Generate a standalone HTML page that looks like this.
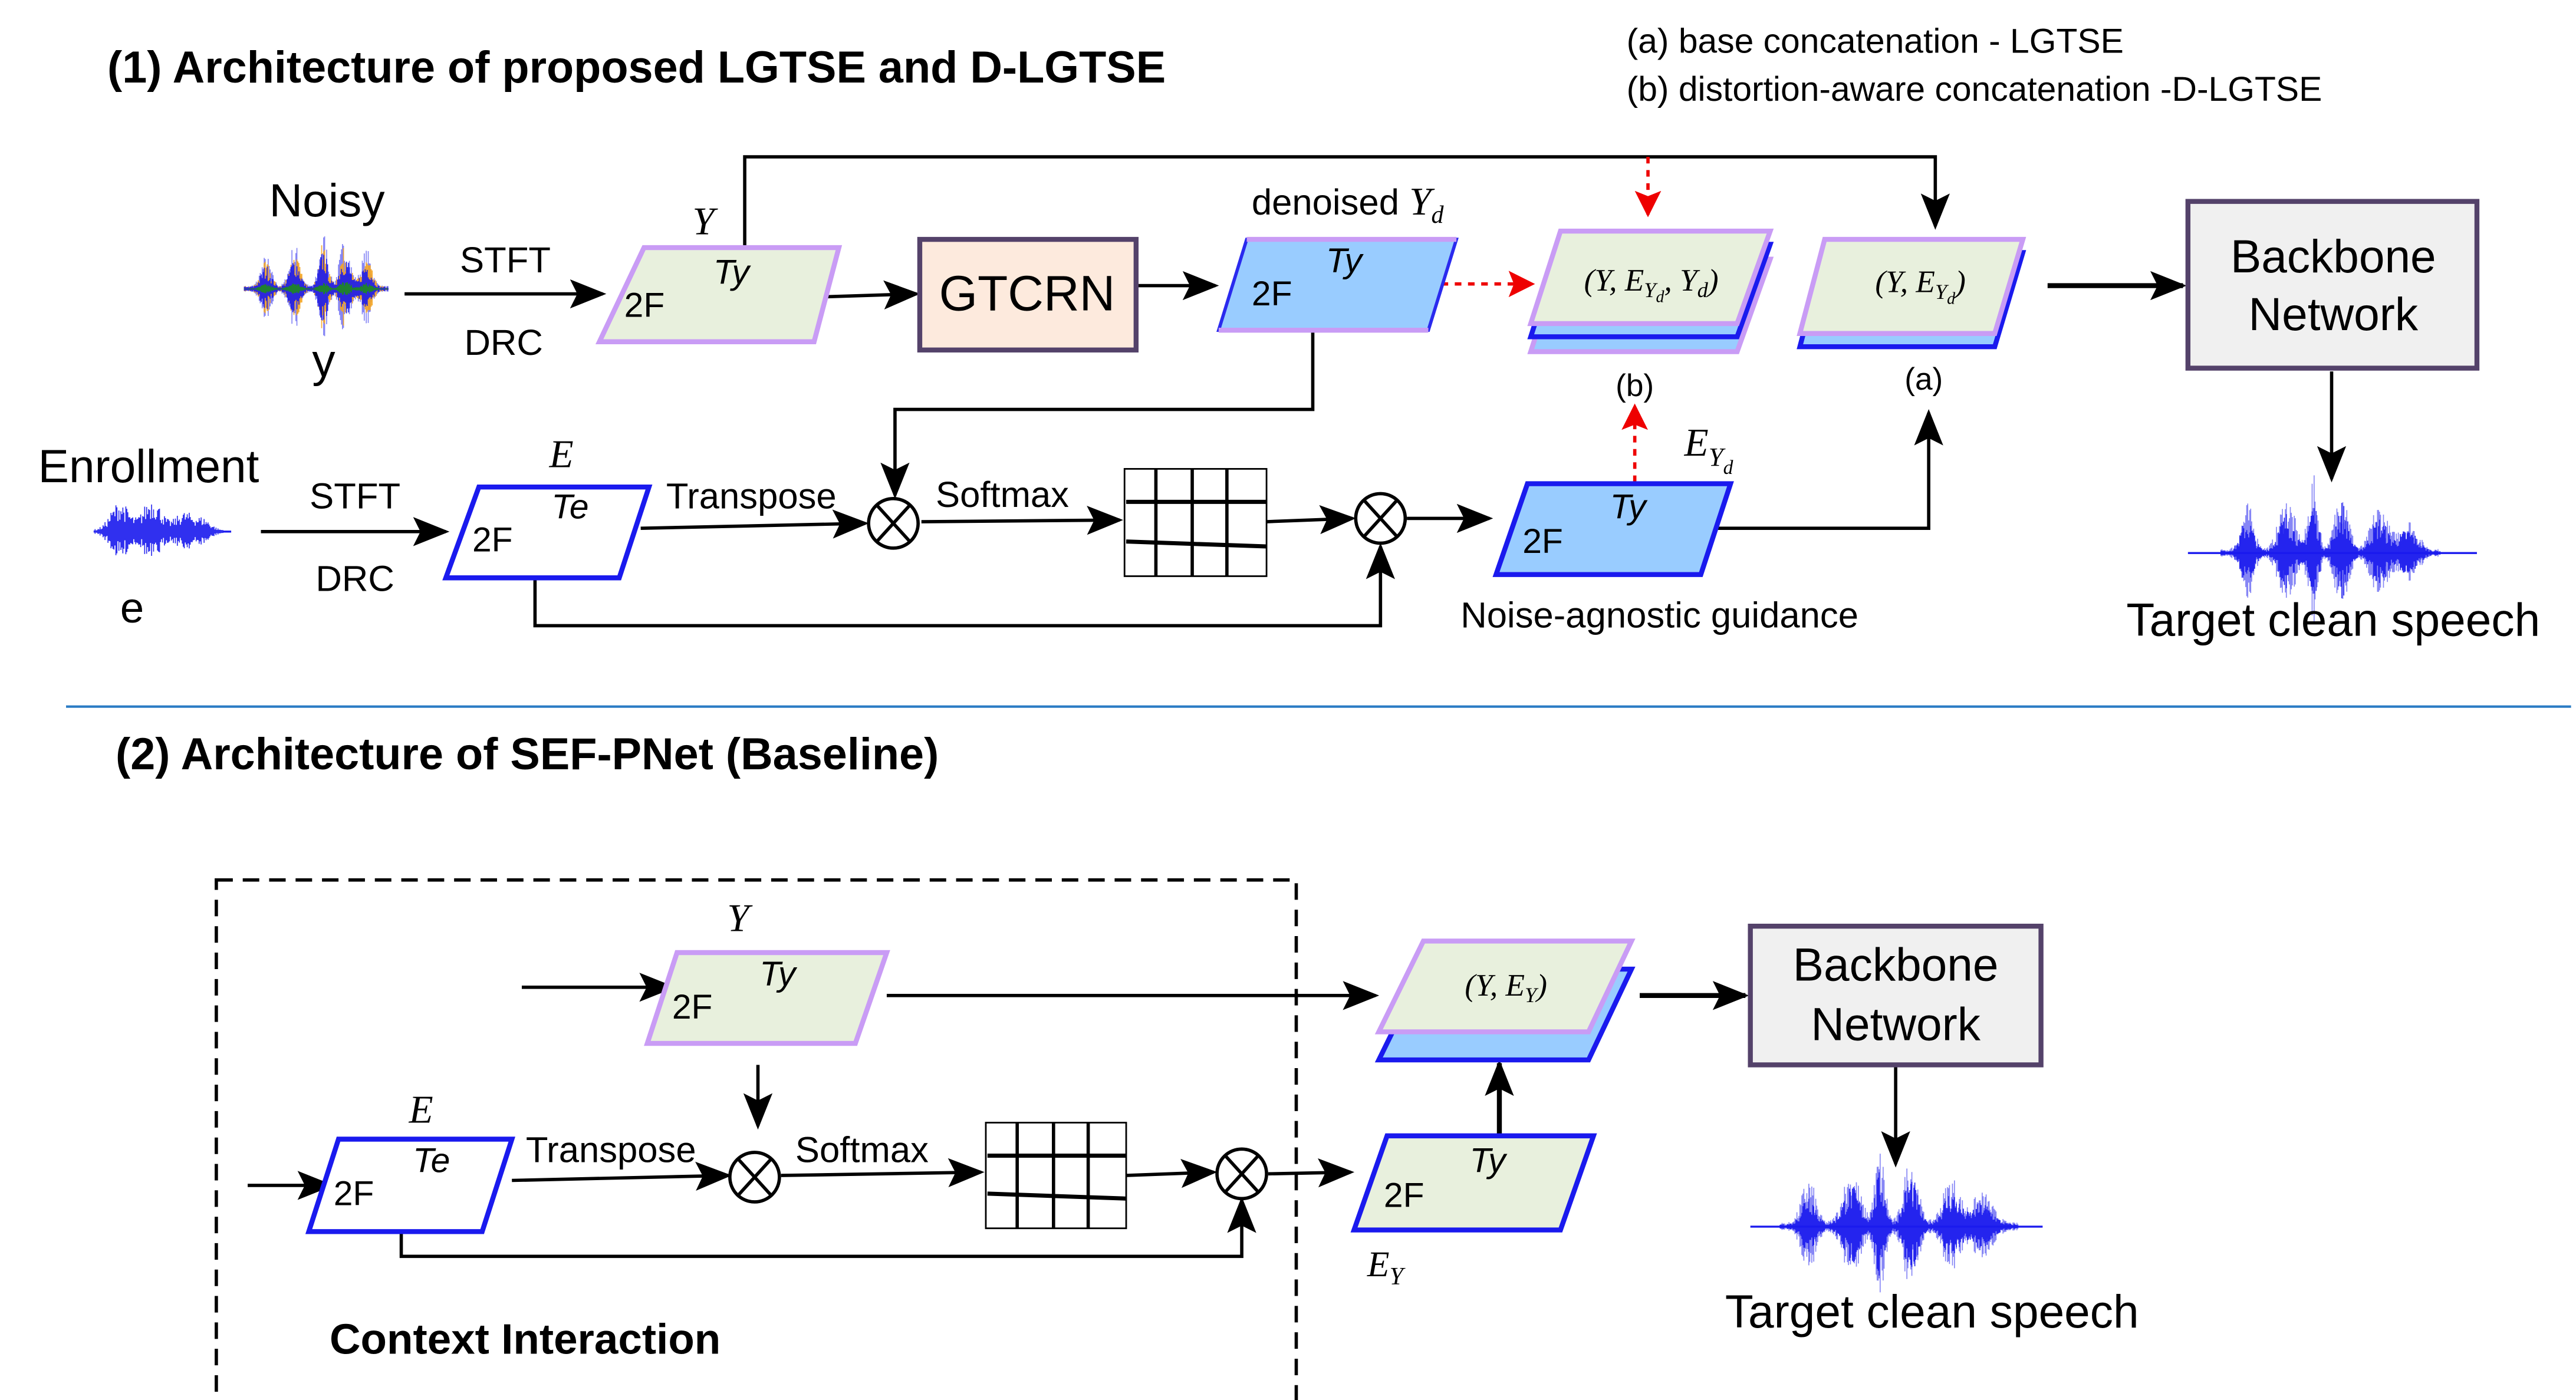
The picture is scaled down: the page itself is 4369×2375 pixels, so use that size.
<!DOCTYPE html>
<html><head><meta charset="utf-8"><style>
html,body{margin:0;padding:0;background:#fff}
svg{display:block}
text{font-family:"Liberation Sans",sans-serif;fill:#000}
.s{font-family:"Liberation Serif",serif;font-style:italic}
.i{font-style:italic}
</style></head><body>
<svg id="g" width="4369" height="2375" viewBox="0 0 1560 848" preserveAspectRatio="none" xmlns="http://www.w3.org/2000/svg">
<defs>
<marker id="A" viewBox="0 0 10 10" refX="9" refY="5" markerWidth="22" markerHeight="22" orient="auto" markerUnits="userSpaceOnUse"><path d="M0,1L10,5L0,9L2,5z" fill="#000"/></marker>
<marker id="r" viewBox="0 0 10 10" refX="9" refY="5" markerWidth="16" markerHeight="16" orient="auto" markerUnits="userSpaceOnUse"><path d="M0,0L10,5L0,10L2,5z" fill="#e00"/></marker>
</defs>
<rect width="1560" height="848" fill="#fff"/>

<text x="65" y="50" font-size="27" font-weight="bold">(1)  Architecture of proposed LGTSE and D-LGTSE</text>
<text x="985" y="32" font-size="21">(a) base concatenation - LGTSE</text>
<text x="985" y="61" font-size="21">(b) distortion-aware concatenation -D-LGTSE</text>

<g stroke="#000" stroke-width="2" fill="none">
<line x1="245" y1="178" x2="365" y2="178" marker-end="url(#A)"/>
<polyline points="451,150 451,95 1172,95 1172,137" marker-end="url(#A)"/>
<line x1="493" y1="180" x2="555" y2="178" marker-end="url(#A)"/>
<line x1="688" y1="173" x2="736" y2="173" marker-end="url(#A)"/>
<line x1="1240" y1="173" x2="1322" y2="173" marker-end="url(#A)" stroke-width="3"/>
<line x1="1412" y1="225" x2="1412" y2="290" marker-end="url(#A)"/>
<line x1="158" y1="322" x2="270" y2="322" marker-end="url(#A)"/>
<line x1="388" y1="320" x2="524" y2="317" marker-end="url(#A)"/>
<polyline points="795,200 795,248 542,248 542,300" marker-end="url(#A)"/>
<line x1="558" y1="316" x2="678" y2="315" marker-end="url(#A)"/>
<line x1="767" y1="316" x2="819" y2="314" marker-end="url(#A)"/>
<polyline points="324,350 324,379 836,379 836,331" marker-end="url(#A)"/>
<line x1="852" y1="314" x2="902" y2="314" marker-end="url(#A)"/>
<polyline points="1040,320 1168,320 1168,250" marker-end="url(#A)"/>
</g>
<g stroke="#e00" stroke-width="2" stroke-dasharray="4,4" fill="none">
<line x1="865" y1="172" x2="928" y2="172" marker-end="url(#r)"/>
<line x1="998" y1="95" x2="998" y2="130" marker-end="url(#r)"/>
<line x1="990" y1="292" x2="990" y2="246" marker-end="url(#r)"/>
</g>

<text x="198" y="131" font-size="28" text-anchor="middle">Noisy</text>
<g id="w1"></g>
<text x="196" y="228" font-size="28" text-anchor="middle">y</text>
<text x="306" y="165" font-size="22" text-anchor="middle">STFT</text>
<text x="305" y="215" font-size="22" text-anchor="middle">DRC</text>

<polygon points="390,150 508,150 493,207 363,207" fill="#e8f0dd" stroke="#c99cf5" stroke-width="3"/>
<text x="426" y="142" font-size="24" class="s" text-anchor="middle">Y</text>
<text x="432" y="172" font-size="21" class="i">Ty</text>
<text x="378" y="192" font-size="21">2F</text>

<rect x="557" y="145" width="131" height="67" fill="#fdeadd" stroke="#54426a" stroke-width="3"/>
<text x="622" y="188" font-size="30" text-anchor="middle">GTCRN</text>

<text x="758" y="130" font-size="22">denoised <tspan class="s" font-size="24">Y</tspan><tspan class="s" font-size="15" dy="5">d</tspan></text>
<polygon points="755,145 882,145 865,200 738,200" fill="#99ccff" stroke="#2a2aee" stroke-width="2"/>
<line x1="755" y1="145" x2="882" y2="145" stroke="#c99cf5" stroke-width="3"/>
<line x1="738" y1="200" x2="865" y2="200" stroke="#c99cf5" stroke-width="3"/>
<text x="803" y="165" font-size="21" class="i">Ty</text>
<text x="758" y="185" font-size="21">2F</text>

<polygon points="945,157 1072,157 1052,213 927,213" fill="#99ccff" stroke="#c99cf5" stroke-width="3"/>
<polygon points="945,148 1072,148 1052,204 927,204" fill="#99ccff" stroke="#1a1aee" stroke-width="3"/>
<polygon points="945,140 1072,140 1052,196 927,196" fill="#e8f0dd" stroke="#c99cf5" stroke-width="3"/>
<text x="1000" y="176" font-size="19" class="s" text-anchor="middle">(Y, E<tspan font-size="13" dy="4">Y</tspan><tspan font-size="10" dy="3">d</tspan><tspan dy="-7">, Y</tspan><tspan font-size="13" dy="4">d</tspan><tspan dy="-4">)</tspan></text>
<text x="990" y="240" font-size="19" text-anchor="middle">(b)</text>

<polygon points="1105,153 1225,153 1208,210 1090,210" fill="#99ccff" stroke="#1a1aee" stroke-width="3"/>
<polygon points="1105,145 1225,145 1208,202 1090,202" fill="#e8f0dd" stroke="#c99cf5" stroke-width="3"/>
<text x="1163" y="177" font-size="19" class="s" text-anchor="middle">(Y, E<tspan font-size="13" dy="4">Y</tspan><tspan font-size="10" dy="3">d</tspan><tspan dy="-7">)</tspan></text>
<text x="1165" y="236" font-size="19" text-anchor="middle">(a)</text>

<rect x="1325" y="122" width="175" height="101" fill="#f0f0f0" stroke="#54426a" stroke-width="3"/>
<text x="1413" y="165" font-size="28" text-anchor="middle">Backbone</text>
<text x="1413" y="200" font-size="28" text-anchor="middle">Network</text>
<g id="w2"></g>
<text x="1413" y="385" font-size="28" text-anchor="middle">Target clean speech</text>

<text x="90" y="292" font-size="28" text-anchor="middle">Enrollment</text>
<g id="w3"></g>
<text x="80" y="377" font-size="26" text-anchor="middle">e</text>
<text x="215" y="308" font-size="22" text-anchor="middle">STFT</text>
<text x="215" y="358" font-size="22" text-anchor="middle">DRC</text>

<polygon points="290,295 393,295 375,350 270,350" fill="#fff" stroke="#1a1aee" stroke-width="3"/>
<text x="340" y="283" font-size="24" class="s" text-anchor="middle">E</text>
<text x="334" y="314" font-size="21" class="i">Te</text>
<text x="286" y="334" font-size="21">2F</text>
<text x="455" y="308" font-size="22" text-anchor="middle">Transpose</text>
<text x="607" y="307" font-size="22" text-anchor="middle">Softmax</text>

<g stroke="#000" stroke-width="2" fill="#fff">
<circle cx="541" cy="317" r="15"/><path d="M531,306L551,328M551,306L531,328"/>
<circle cx="836" cy="314" r="15"/><path d="M826,303L846,325M846,303L826,325"/>
</g>
<g stroke="#000" fill="none">
<rect x="681" y="284" width="86" height="65" stroke-width="1"/>
<path d="M700,284V349M722,284V349M743,284V349" stroke-width="2"/>
<path d="M682,304H767M682,328L767,331" stroke-width="2.5"/>
</g>

<polygon points="925,293 1048,293 1030,348 906,348" fill="#99ccff" stroke="#1a1aee" stroke-width="3"/>
<text x="975" y="314" font-size="21" class="i">Ty</text>
<text x="922" y="335" font-size="21">2F</text>
<text x="1020" y="276" font-size="24" class="s">E<tspan font-size="16" dy="6">Y</tspan><tspan font-size="12" dy="5">d</tspan></text>
<text x="1005" y="380" font-size="22" text-anchor="middle">Noise-agnostic guidance</text>

<line x1="40" y1="428" x2="1557" y2="428" stroke="#2b7bc4" stroke-width="1.5"/>

<text x="70" y="466" font-size="27" font-weight="bold">(2)  Architecture of SEF-PNet (Baseline)</text>
<rect x="131" y="533" width="654" height="317" fill="none" stroke="#000" stroke-width="2" stroke-dasharray="10,6"/>

<g stroke="#000" stroke-width="2" fill="none">
<line x1="316" y1="598" x2="407" y2="598" marker-end="url(#A)"/>
<line x1="537" y1="603" x2="833" y2="603" marker-end="url(#A)"/>
<line x1="459" y1="645" x2="459" y2="682" marker-end="url(#A)"/>
<line x1="150" y1="718" x2="200" y2="718" marker-end="url(#A)"/>
<line x1="310" y1="715" x2="441" y2="712" marker-end="url(#A)"/>
<line x1="473" y1="712" x2="594" y2="710" marker-end="url(#A)"/>
<line x1="682" y1="712" x2="735" y2="710" marker-end="url(#A)"/>
<line x1="768" y1="711" x2="818" y2="710" marker-end="url(#A)"/>
<polyline points="243,746 243,761 752,761 752,727" marker-end="url(#A)"/>
<line x1="908" y1="688" x2="908" y2="644" marker-end="url(#A)" stroke-width="3"/>
<line x1="993" y1="603" x2="1057" y2="603" marker-end="url(#A)" stroke-width="3"/>
<line x1="1148" y1="645" x2="1148" y2="705" marker-end="url(#A)"/>
</g>

<polygon points="410,577 537,577 518,632 392,632" fill="#e8f0dd" stroke="#c99cf5" stroke-width="3"/>
<text x="447" y="564" font-size="24" class="s" text-anchor="middle">Y</text>
<text x="460" y="597" font-size="21" class="i">Ty</text>
<text x="407" y="617" font-size="21">2F</text>

<polygon points="205,690 310,690 292,746 187,746" fill="#fff" stroke="#1a1aee" stroke-width="3"/>
<text x="255" y="680" font-size="24" class="s" text-anchor="middle">E</text>
<text x="250" y="710" font-size="21" class="i">Te</text>
<text x="202" y="730" font-size="21">2F</text>
<text x="370" y="704" font-size="22" text-anchor="middle">Transpose</text>
<text x="522" y="704" font-size="22" text-anchor="middle">Softmax</text>
<g stroke="#000" stroke-width="2" fill="#fff">
<circle cx="457" cy="713" r="15"/><path d="M447,702L467,724M467,702L447,724"/>
<circle cx="752" cy="711" r="15"/><path d="M742,700L762,722M762,700L742,722"/>
</g>
<g stroke="#000" fill="none">
<rect x="597" y="680" width="85" height="64" stroke-width="1"/>
<path d="M616,680V744M638,680V744M659,680V744" stroke-width="2"/>
<path d="M598,700H682M598,723L682,726" stroke-width="2.5"/>
</g>
<text x="318" y="820" font-size="26" font-weight="bold" text-anchor="middle">Context Interaction</text>

<polygon points="862,587 988,587 962,642 835,642" fill="#99ccff" stroke="#1a1aee" stroke-width="3"/>
<polygon points="862,570 988,570 962,625 835,625" fill="#e8f0dd" stroke="#c99cf5" stroke-width="3"/>
<text x="912" y="603" font-size="19" class="s" text-anchor="middle">(Y, E<tspan font-size="13" dy="4">Y</tspan><tspan dy="-4">)</tspan></text>

<polygon points="840,688 965,688 945,745 820,745" fill="#e8f0dd" stroke="#1a1aee" stroke-width="3"/>
<text x="890" y="710" font-size="21" class="i">Ty</text>
<text x="838" y="731" font-size="21">2F</text>
<text x="828" y="773" font-size="22" class="s">E<tspan font-size="15" dy="5">Y</tspan></text>

<rect x="1060" y="561" width="176" height="84" fill="#f0f0f0" stroke="#54426a" stroke-width="3"/>
<text x="1148" y="594" font-size="28" text-anchor="middle">Backbone</text>
<text x="1148" y="630" font-size="28" text-anchor="middle">Network</text>
<g id="w4"></g>
<text x="1170" y="804" font-size="28" text-anchor="middle">Target clean speech</text>
</svg>
<script>
(function(){
var NS="http://www.w3.org/2000/svg";
var seed=7;function rnd(){seed=(seed*16807)%2147483647;return seed/2147483647;}
function env(t,peaks){var v=0.05;for(var i=0;i<peaks.length;i++){var p=peaks[i];var d=(t-p[0])/p[2];v+=p[1]*Math.exp(-d*d);}return Math.min(v,1);}
function wave(id,x0,x1,cy,h,peaks,cols,line,scales){
 var g=document.getElementById(id);
 for(var c=0;c<cols.length;c++){var d="";var sc=scales?scales[c]:1;
  for(var x=x0;x<=x1;x+=0.6){var t=(x-x0)/(x1-x0);var a=env(t,peaks)*h*(0.35+0.65*rnd())*sc;
   d+="M"+x.toFixed(1)+","+(cy-a).toFixed(1)+"V"+(cy+a*0.9).toFixed(1);}
  var p=document.createElementNS(NS,"path");p.setAttribute("d",d);p.setAttribute("stroke",cols[c]);p.setAttribute("stroke-width","0.6");p.setAttribute("opacity","0.9");g.appendChild(p);}
 if(line){var l=document.createElementNS(NS,"line");l.setAttribute("x1",line[0]);l.setAttribute("x2",line[1]);l.setAttribute("y1",cy);l.setAttribute("y2",cy);l.setAttribute("stroke","#1a1aee");l.setAttribute("stroke-width","1.2");g.appendChild(l);}
}
var pk=[[0.15,0.5,0.05],[0.35,0.7,0.05],[0.55,0.9,0.04],[0.7,0.8,0.05],[0.85,0.6,0.05]];
wave("w1",148,235,175,38,pk,["#7a7af5","#f5a623","#1a1aee","#1e8a1e"],null,[1,0.8,0.7,0.15]);
var pc=[[0.12,0.6,0.04],[0.3,0.7,0.05],[0.42,0.95,0.03],[0.55,0.9,0.04],[0.72,0.6,0.05],[0.85,0.4,0.06]];
wave("w2",1345,1478,335,48,pc,["#7a7af5","#1a1aee"],[1325,1500],[1,0.7]);
wave("w3",57,135,322,22,[[0.2,0.8,0.1],[0.45,0.9,0.1],[0.7,0.5,0.1],[0.85,0.3,0.08]],["#1a1aee"],[135,140]);
wave("w4",1078,1222,743,48,pc,["#7a7af5","#1a1aee"],[1060,1237],[1,0.7]);
})();
</script>
</body></html>
